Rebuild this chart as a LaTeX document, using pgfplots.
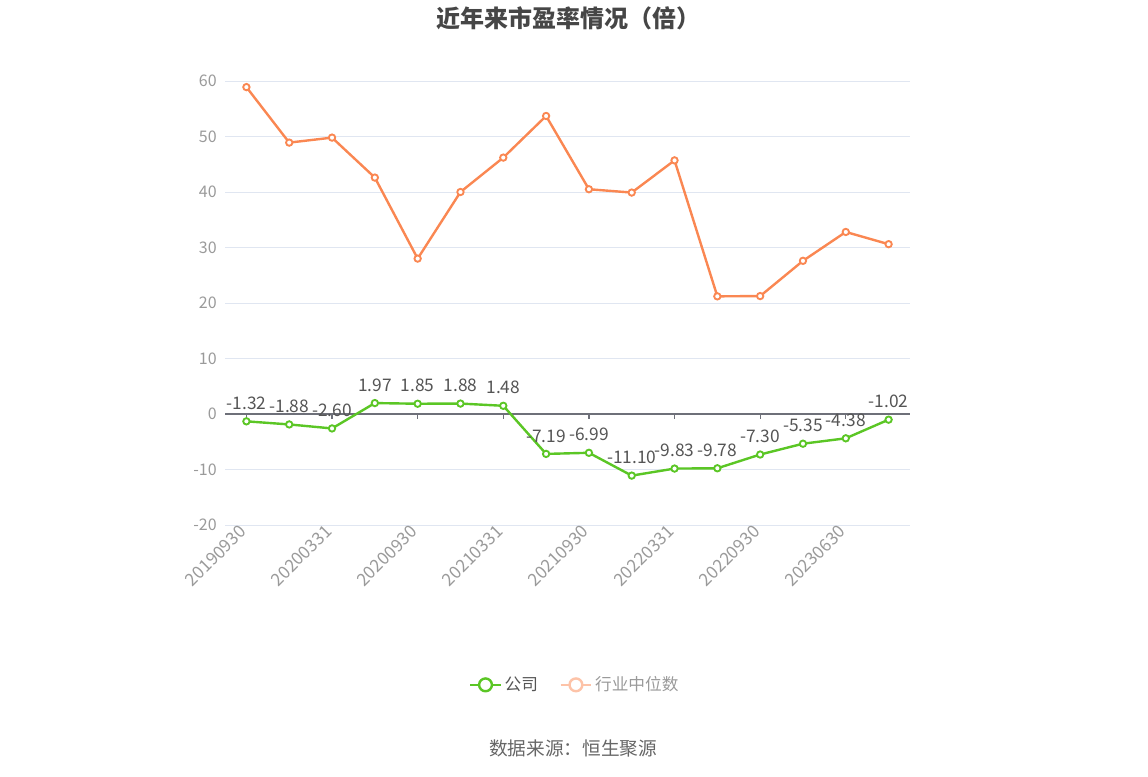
\documentclass[border=0pt]{standalone}
\usepackage{pgfplots}
\pgfplotsset{compat=1.18}
\usepackage{fontspec}
\setmainfont{Noto Sans CJK SC}
\definecolor{grn}{HTML}{5BC625}
\definecolor{orc}{HTML}{FA8752}
\definecolor{orpale}{HTML}{FDC3A8}
\definecolor{gridc}{HTML}{E0E6F1}
\definecolor{axc}{HTML}{6E7079}
\definecolor{tickc}{HTML}{9A9A9A}
\definecolor{lblc}{HTML}{555555}
\definecolor{titlec}{HTML}{464646}
\definecolor{srcc}{HTML}{666666}
\begin{document}
\begin{tikzpicture}[x=0.75pt,y=0.75pt]
\useasboundingbox (0,0) rectangle (1148,776);
\node[font=\fontsize{18}{20}\selectfont\bfseries, text=titlec] at (568,758) {近年来市盈率情况（倍）};
\node[font=\fontsize{14}{16}\selectfont, text=srcc] at (573,28) {数据来源：恒生聚源};
\begin{axis}[
  at={(168.75pt,188.25pt)}, anchor=south west,
  scale only axis, width=513.75pt, height=333pt,
  xmin=-0.5, xmax=15.5, ymin=-20, ymax=60,
  ytick={-20,-10,0,10,20,30,40,50,60},
  xtick={0,2,4,6,8,10,12,14},
  xticklabels={20190930,20200331,20200930,20210331,20210930,20220331,20220930,20230630},
  axis line style={draw=none},
  major tick length=0pt,
  ymajorgrids, grid style={draw=gridc, line width=0.75pt},
  tick label style={font=\fontsize{12}{14}\selectfont, text=tickc},
  xticklabel style={rotate=45, anchor=east, inner sep=3.5pt, font=\fontsize{13}{15}\selectfont},
  yticklabel style={inner sep=6pt},
  /pgf/number format/assume math mode=true,
  clip=false,
  legend style={at={(0.511,-0.360)}, anchor=center, draw=none, fill=none,
    font=\fontsize{12.5}{14}\selectfont, legend columns=2,
    /tikz/every even column/.append style={column sep=14pt}},
]
\draw[axc, line width=0.9pt] (axis cs:-0.5,0) -- (axis cs:15.5,0);
\pgfplotsinvokeforeach{0,2,4,6,8,10,12,14}{\draw[axc, line width=0.9pt] (axis cs:#1,0) -- ([yshift=-4pt]axis cs:#1,0);}
\addplot[grn, line width=1.8pt, mark=*, mark size=2.4pt, mark options={fill=white, line width=1.4pt},
  nodes near coords={\pgfmathprintnumber[fixed,fixed zerofill,precision=2,assume math mode=true]{\pgfplotspointmeta}},
  every node near coord/.append style={font=\fontsize{13}{15}\selectfont, text=lblc, anchor=south, inner sep=0pt, yshift=8pt},
  legend image code/.code={\draw[grn,line width=1.8pt] (0pt,0pt) -- (23pt,0pt); \draw[grn,line width=1.8pt,fill=white] (11.5pt,0pt) circle (4.8pt);}]
coordinates {(0,-1.32) (1,-1.88) (2,-2.60) (3,1.97) (4,1.85) (5,1.88) (6,1.48) (7,-7.19) (8,-6.99) (9,-11.10) (10,-9.83) (11,-9.78) (12,-7.30) (13,-5.35) (14,-4.38) (15,-1.02)};
\addlegendentry{\textcolor{lblc}{公司}}
\addplot[orc, line width=1.8pt, mark=*, mark size=2.4pt, mark options={fill=white, line width=1.4pt},
  legend image code/.code={\draw[orpale,line width=1.8pt] (0pt,0pt) -- (23pt,0pt); \draw[orpale,line width=1.8pt,fill=white] (11.5pt,0pt) circle (4.8pt);}]
coordinates {(0,58.9) (1,48.9) (2,49.8) (3,42.6) (4,28.0) (5,40.0) (6,46.2) (7,53.7) (8,40.5) (9,39.9) (10,45.7) (11,21.2) (12,21.25) (13,27.6) (14,32.8) (15,30.6)};
\addlegendentry{\textcolor{tickc}{行业中位数}}
\end{axis}
\end{tikzpicture}
\end{document}
